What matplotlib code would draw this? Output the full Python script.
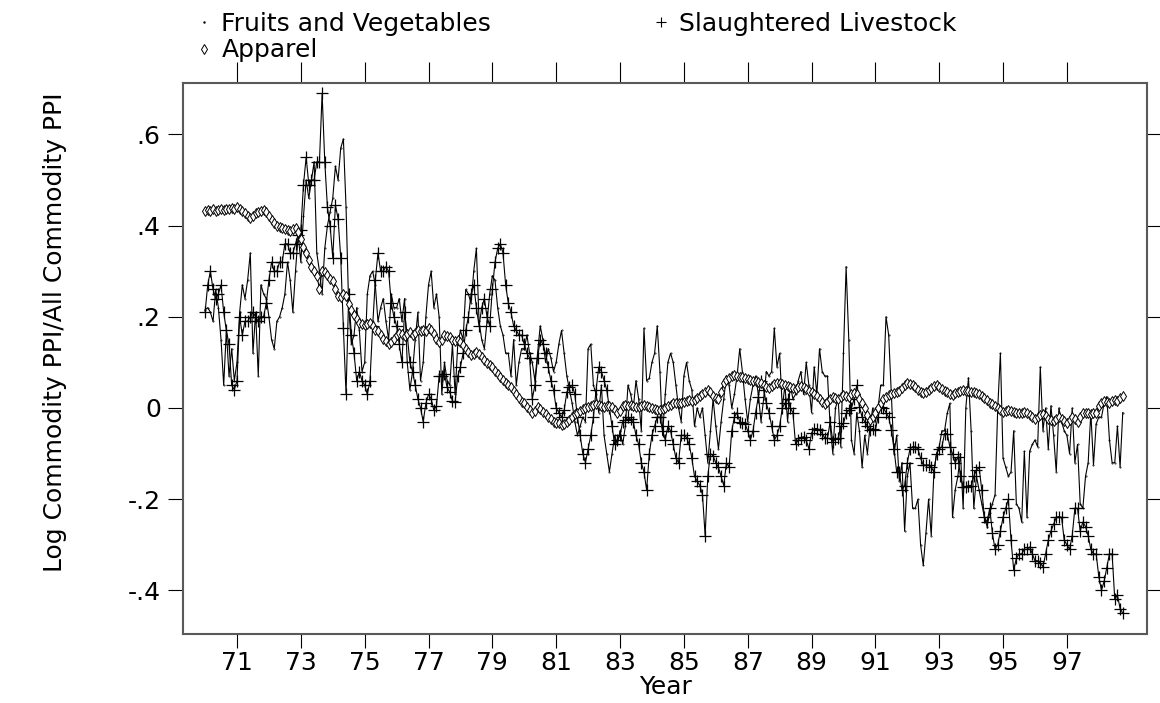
import matplotlib
matplotlib.use("Agg")
import matplotlib.pyplot as plt
from matplotlib.lines import Line2D
import numpy as np

plt.rcParams['font.family'] = ['DejaVu Sans']

# monthly values, Jan 1970 .. Oct 1998 (one row per year)
fruit_veg = [
    0.215, 0.22, 0.21, 0.19, 0.26, 0.22, 0.15, 0.05, 0.17, 0.07, 0.13, 0.06,
    0.10, 0.21, 0.27, 0.24, 0.28, 0.34, 0.12, 0.21, 0.07, 0.27, 0.25, 0.24,
    0.20, 0.15, 0.13, 0.19, 0.20, 0.22, 0.25, 0.32, 0.28, 0.21, 0.30, 0.38,
    0.32, 0.42, 0.50, 0.46, 0.50, 0.54, 0.34, 0.30, 0.25, 0.35, 0.40, 0.43,
    0.46, 0.53, 0.50, 0.57, 0.59, 0.44, 0.22, 0.14, 0.16, 0.22, 0.17, 0.08,
    0.10, 0.25, 0.29, 0.30, 0.27, 0.19, 0.22, 0.24, 0.19, 0.15, 0.25, 0.22,
    0.22, 0.24, 0.19, 0.24, 0.10, 0.04, 0.08, 0.15, 0.21, 0.06, 0.10, 0.20,
    0.27, 0.30, 0.22, 0.25, 0.20, 0.03, 0.10, 0.06, 0.05, 0.14, 0.03, 0.14,
    0.17, 0.15, 0.26, 0.25, 0.23, 0.30, 0.35, 0.19, 0.15, 0.13, 0.19, 0.25,
    0.29, 0.28, 0.22, 0.18, 0.16, 0.12, 0.12, 0.07, 0.15, 0.05, 0.10, 0.13,
    0.13, 0.16, 0.12, 0.10, 0.06, 0.12, 0.18, 0.15, 0.10, 0.13, 0.11, 0.08,
    0.10, 0.14, 0.17, 0.12, 0.07, 0.04, 0.01, -0.03, -0.06, -0.04, -0.02, -0.03,
    0.13, 0.14, 0.05, 0.03, -0.01, 0.05, -0.06, -0.10, -0.14, -0.10, -0.06, -0.08,
    -0.05, -0.08, -0.04, 0.05, 0.03, 0.00, 0.06, 0.02, -0.05, 0.175, 0.06, 0.065,
    0.10, 0.12, 0.18, 0.08, -0.06, 0.03, 0.10, 0.12, 0.10, 0.05, 0.00, -0.03,
    0.07, 0.10, 0.06, 0.04, -0.04, 0.00, -0.02, 0.00, -0.06, -0.12, -0.05, 0.02,
    -0.04, -0.09, -0.03, 0.02, 0.07, 0.05, 0.00, 0.03, 0.07, 0.13, 0.08, 0.02,
    -0.03, 0.02, 0.05, 0.07, 0.03, -0.03, 0.02, 0.08, 0.07, 0.08, 0.175, 0.09,
    0.12, 0.00, 0.05, -0.03, 0.05, 0.02, 0.03, 0.06, 0.08, 0.03, 0.10, 0.05,
    -0.01, 0.09, 0.03, 0.13, 0.08, 0.07, 0.07, -0.04, -0.10, 0.00, 0.02, -0.085,
    0.12, 0.31, 0.15, -0.07, -0.10, -0.01, -0.05, -0.13, -0.06, -0.10, -0.04, 0.00,
    -0.03, 0.00, 0.05, 0.05, 0.20, 0.16, 0.03, -0.10, -0.06, -0.16, -0.12, -0.27,
    -0.15, -0.12, -0.22, -0.22, -0.20, -0.30, -0.345, -0.275, -0.20, -0.28, -0.14, -0.10,
    -0.085, -0.05, -0.05, -0.012, 0.01, -0.24, -0.18, -0.15, -0.10, -0.22, 0.00, 0.066,
    -0.05, -0.22, -0.15, -0.18, -0.21, -0.24, -0.26, -0.23, -0.21, -0.19, 0.00, 0.12,
    -0.11, -0.13, -0.15, -0.14, -0.05, -0.21, -0.22, -0.25, -0.095, -0.24, -0.095, -0.08,
    -0.07, -0.085, 0.09, -0.05, 0.00, -0.09, 0.005, -0.06, -0.14, 0.00, -0.03, -0.05,
    -0.06, -0.10, 0.00, -0.12, -0.08, -0.21, -0.22, -0.15, -0.12, -0.01, -0.125, -0.035,
    -0.02, -0.02, 0.01, 0.025, -0.07, -0.12, -0.12, -0.04, -0.13, -0.01,
]

livestock = [
    0.21, 0.27, 0.30, 0.26, 0.24, 0.25, 0.27, 0.21, 0.17, 0.14, 0.05, 0.04,
    0.06, 0.20, 0.16, 0.19, 0.19, 0.20, 0.21, 0.20, 0.19, 0.20, 0.20, 0.23,
    0.28, 0.32, 0.30, 0.30, 0.32, 0.32, 0.36, 0.36, 0.34, 0.34, 0.36, 0.38,
    0.39, 0.49, 0.55, 0.49, 0.50, 0.50, 0.54, 0.54, 0.69, 0.54, 0.44, 0.40,
    0.33, 0.445, 0.415, 0.33, 0.175, 0.03, 0.25, 0.16, 0.12, 0.06, 0.08, 0.06,
    0.05, 0.03, 0.06, 0.18, 0.28, 0.34, 0.30, 0.30, 0.31, 0.30, 0.23, 0.20,
    0.18, 0.14, 0.10, 0.21, 0.16, 0.10, 0.08, 0.05, 0.02, 0.00, -0.03, 0.01,
    0.03, 0.02, -0.005, 0.005, 0.07, 0.07, 0.075, 0.045, 0.035, 0.015, 0.013, 0.07,
    0.09, 0.12, 0.17, 0.20, 0.25, 0.27, 0.22, 0.18, 0.22, 0.24, 0.20, 0.18,
    0.26, 0.32, 0.35, 0.36, 0.34, 0.27, 0.23, 0.21, 0.18, 0.17, 0.16, 0.16,
    0.14, 0.12, 0.11, 0.02, 0.05, 0.11, 0.15, 0.14, 0.12, 0.09, 0.06, 0.04,
    0.00, -0.01, -0.02, -0.005, 0.035, 0.045, 0.05, 0.03, -0.02, -0.06, -0.10, -0.12,
    -0.09, -0.06, -0.02, 0.04, 0.09, 0.08, 0.06, 0.04, 0.00, -0.04, -0.08, -0.07,
    -0.06, -0.03, -0.026, -0.02, -0.025, -0.03, -0.06, -0.08, -0.12, -0.14, -0.18, -0.10,
    -0.06, -0.04, -0.02, -0.02, -0.05, -0.07, -0.04, -0.05, -0.08, -0.11, -0.12, -0.06,
    -0.06, -0.065, -0.08, -0.11, -0.15, -0.16, -0.17, -0.19, -0.28, -0.15, -0.10, -0.105,
    -0.12, -0.13, -0.15, -0.17, -0.12, -0.13, -0.05, -0.02, -0.01, -0.03, -0.033, -0.035,
    -0.05, -0.07, -0.05, -0.01, 0.025, 0.06, 0.04, 0.01, -0.01, -0.04, -0.07, -0.06,
    -0.04, 0.00, 0.01, 0.02, 0.00, -0.01, -0.08, -0.07, -0.065, -0.063, -0.07, -0.09,
    -0.055, -0.045, -0.045, -0.048, -0.056, -0.066, -0.066, -0.03, -0.074, -0.068, -0.066, -0.04,
    -0.034, -0.012, -0.005, 0.00, 0.02, 0.05, 0.003, -0.02, -0.03, -0.04, -0.048, -0.045,
    -0.048, -0.02, 0.003, 0.00, -0.01, -0.02, -0.048, -0.09, -0.14, -0.14, -0.18, -0.17,
    -0.12, -0.09, -0.085, -0.085, -0.09, -0.11, -0.125, -0.125, -0.125, -0.13, -0.14, -0.10,
    -0.09, -0.085, -0.056, -0.056, -0.085, -0.10, -0.12, -0.107, -0.15, -0.173, -0.173, -0.17,
    -0.17, -0.15, -0.136, -0.13, -0.18, -0.24, -0.25, -0.22, -0.275, -0.31, -0.30, -0.27,
    -0.24, -0.22, -0.20, -0.29, -0.355, -0.33, -0.32, -0.32, -0.31, -0.31, -0.305, -0.32,
    -0.335, -0.335, -0.34, -0.348, -0.32, -0.29, -0.27, -0.255, -0.24, -0.238, -0.24, -0.29,
    -0.30, -0.31, -0.28, -0.22, -0.22, -0.27, -0.25, -0.26, -0.28, -0.31, -0.32, -0.32,
    -0.37, -0.40, -0.38, -0.35, -0.32, -0.32, -0.42, -0.41, -0.44, -0.45,
]

apparel = [
    0.432, 0.434, 0.433, 0.436, 0.432, 0.435, 0.436, 0.434, 0.437, 0.436, 0.438, 0.437,
    0.440, 0.436, 0.432, 0.428, 0.420, 0.417, 0.422, 0.428, 0.430, 0.432, 0.434, 0.430,
    0.420, 0.412, 0.405, 0.400, 0.397, 0.394, 0.392, 0.390, 0.388, 0.392, 0.395, 0.385,
    0.370, 0.352, 0.340, 0.325, 0.310, 0.300, 0.290, 0.262, 0.300, 0.298, 0.292, 0.282,
    0.278, 0.262, 0.246, 0.244, 0.250, 0.245, 0.228, 0.215, 0.205, 0.195, 0.186, 0.185,
    0.182, 0.184, 0.186, 0.180, 0.172, 0.168, 0.160, 0.152, 0.146, 0.140, 0.145, 0.152,
    0.160, 0.164, 0.162, 0.158, 0.162, 0.166, 0.160, 0.164, 0.170, 0.168, 0.172, 0.168,
    0.175, 0.170, 0.162, 0.152, 0.145, 0.150, 0.160, 0.158, 0.155, 0.150, 0.148, 0.149,
    0.145, 0.138, 0.130, 0.122, 0.116, 0.118, 0.122, 0.118, 0.112, 0.105, 0.098, 0.095,
    0.090, 0.082, 0.075, 0.068, 0.062, 0.055, 0.050, 0.045, 0.038, 0.030, 0.022, 0.014,
    0.011, 0.002, -0.005, -0.011, -0.006, 0.002, -0.002, -0.008, -0.014, -0.020, -0.025, -0.030,
    -0.032, -0.034, -0.037, -0.035, -0.030, -0.026, -0.020, -0.014, -0.010, -0.006, -0.002, 0.000,
    0.002, 0.004, 0.006, 0.008, 0.006, 0.004, 0.003, 0.004, 0.005, 0.002, -0.005, -0.012,
    -0.006, 0.004, 0.007, 0.005, 0.006, 0.004, 0.002, 0.003, 0.004, 0.006, 0.004, 0.002,
    0.000, -0.002, -0.004, -0.005, -0.003, 0.000, 0.004, 0.006, 0.010, 0.012, 0.010, 0.012,
    0.014, 0.016, 0.018, 0.016, 0.018, 0.022, 0.026, 0.030, 0.036, 0.040, 0.034, 0.026,
    0.022, 0.020, 0.035, 0.055, 0.062, 0.066, 0.070, 0.072, 0.070, 0.068, 0.068, 0.066,
    0.064, 0.062, 0.060, 0.060, 0.058, 0.054, 0.050, 0.046, 0.044, 0.048, 0.052, 0.054,
    0.055, 0.052, 0.050, 0.048, 0.046, 0.044, 0.042, 0.045, 0.048, 0.046, 0.042, 0.038,
    0.034, 0.030, 0.026, 0.020, 0.014, 0.008, 0.014, 0.020, 0.024, 0.022, 0.020, 0.024,
    0.028, 0.026, 0.024, 0.030, 0.033, 0.030, 0.020, 0.010, 0.000, -0.015, -0.026, -0.020,
    -0.012, 0.000, 0.012, 0.020, 0.025, 0.028, 0.030, 0.032, 0.034, 0.038, 0.044, 0.050,
    0.055, 0.052, 0.050, 0.045, 0.040, 0.035, 0.032, 0.036, 0.040, 0.044, 0.048, 0.050,
    0.046, 0.042, 0.038, 0.034, 0.030, 0.028, 0.032, 0.036, 0.038, 0.040, 0.038, 0.037,
    0.036, 0.034, 0.032, 0.030, 0.026, 0.022, 0.018, 0.012, 0.008, 0.004, 0.000, -0.004,
    -0.008, -0.006, -0.004, -0.006, -0.008, -0.010, -0.012, -0.010, -0.008, -0.012, -0.016, -0.020,
    -0.024, -0.020, -0.016, -0.014, -0.018, -0.024, -0.026, -0.028, -0.024, -0.020, -0.024, -0.028,
    -0.032, -0.026, -0.020, -0.024, -0.030, -0.020, -0.012, -0.010, -0.012, -0.014, -0.012, -0.010,
    0.005, 0.012, 0.016, 0.014, 0.012, 0.016, 0.018, 0.016, 0.022, 0.027,
]

year_ticks = list(range(71, 98, 2))
year_labels = [str(y) for y in year_ticks]
y_ticks = [-0.4, -0.2, 0, 0.2, 0.4, 0.6]
y_labels = ['-.4', '-.2', '0', '.2', '.4', '.6']


def plot():
    t = 70 + np.arange(len(apparel)) / 12.0

    fig = plt.figure(figsize=(11.6, 7.03), dpi=100)
    ax = fig.add_axes([0.1578, 0.0982, 0.831, 0.7837])

    ax.plot(t, fruit_veg, color='black', lw=0.8, marker='.', ms=0.8)
    ax.plot(t, livestock, color='black', lw=0.8, marker='+', ms=8, mew=0.9)
    ax.plot(t, apparel, color='black', lw=0.8, marker='d', ms=5.2, mew=0.7,
            mfc='white', mec='black')

    ax.set_xlim(69.31, 99.51)
    ax.set_ylim(-0.4956, 0.7127)

    ax.set_xticks(year_ticks)
    ax.set_xticklabels(year_labels)
    ax.set_yticks(y_ticks)
    ax.set_yticklabels(y_labels)
    ax.tick_params(axis='x', which='both', direction='out', top=False,
                   length=10, width=0.8, pad=2, labelsize=18)
    ax.tick_params(axis='y', which='both', direction='out', right=True,
                   labelright=False, length=11, width=0.8, pad=5, labelsize=18)
    # longer unlabeled ticks along the top edge
    top = ax.secondary_xaxis('top')
    top.set_xticks(year_ticks)
    top.tick_params(direction='out', length=15, width=0.8, labeltop=False)
    top.spines['top'].set_visible(False)
    for s in ax.spines.values():
        s.set_color('0.35')
        s.set_linewidth(1.5)

    ax.set_xlabel('Year', fontsize=18)
    ax.xaxis.set_label_coords(0.5, -0.075)
    ax.xaxis.label.set_va('top')
    ax.set_ylabel('Log Commodity PPI/All Commodity PPI', fontsize=18)
    ax.yaxis.set_label_coords(-0.12, 0.548)

    handles = [
        Line2D([], [], color='black', ls='none', marker='.', ms=1.5),
        Line2D([], [], color='black', ls='none', marker='d', ms=5.5, mew=0.7, mfc='white'),
        Line2D([], [], color='black', ls='none', marker='+', ms=7, mew=0.8),
    ]
    labels = ['Fruits and Vegetables', 'Apparel', 'Slaughtered Livestock']
    fig.legend(handles, labels, loc='upper left', bbox_to_anchor=(0.152, 1.008),
               ncol=2, frameon=False, fontsize=18, handlelength=0.8,
               handletextpad=0.3, labelspacing=0.1, columnspacing=6.4,
               borderpad=0.2)

    fig.savefig('out.png', dpi=100)


if __name__ == '__main__':
    plot()
